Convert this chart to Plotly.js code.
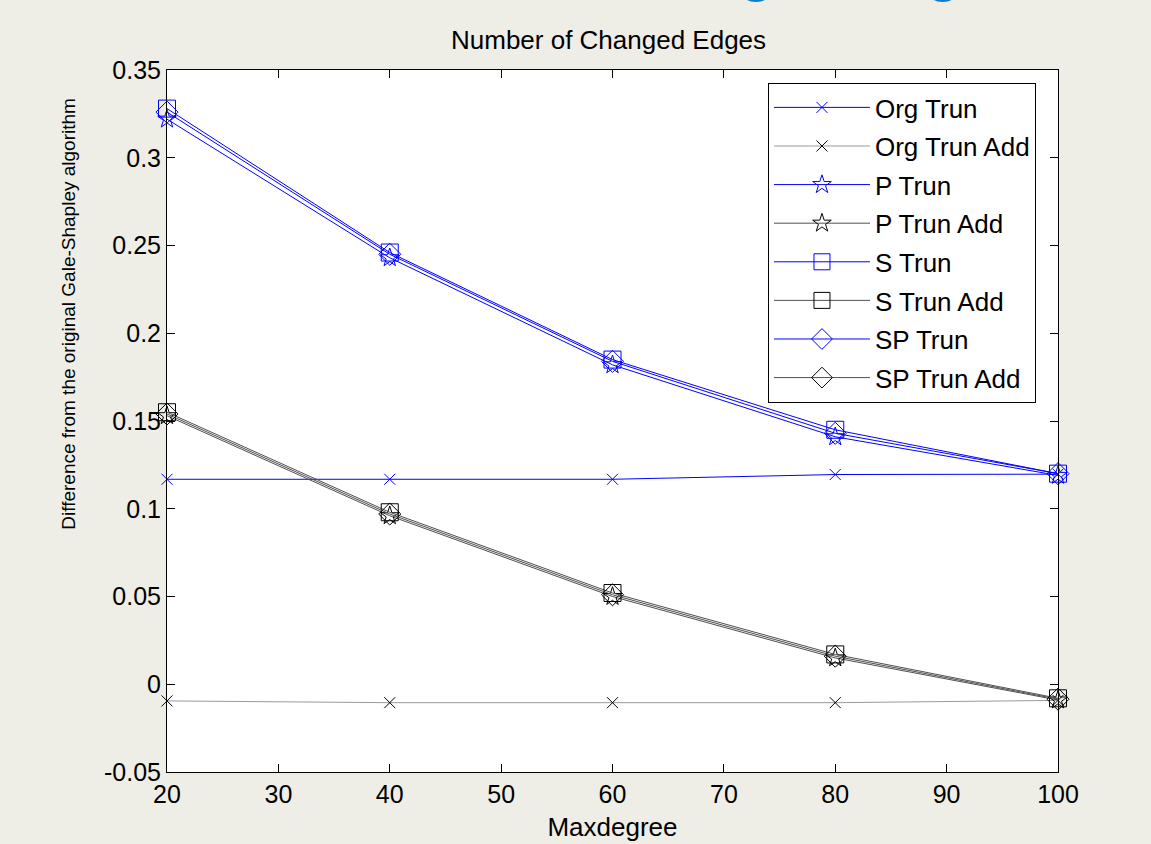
<!DOCTYPE html>
<html>
<head>
<meta charset="utf-8">
<script src="https://cdn.plot.ly/plotly-3.0.1.min.js"></script>
<style>html,body{margin:0;padding:0;background:#EFEEE6;}#chart{width:1151px;height:844px;}</style>
</head>
<body>
<div id="chart"></div>
<script>
// ---- data ----
const maxdegree = [20, 40, 60, 80, 100];
const orgTrun    = [0.1168, 0.1168, 0.1168, 0.1195, 0.1197];
const orgTrunAdd = [-0.0095, -0.0105, -0.0105, -0.0105, -0.0092];
const pTrun      = [0.322, 0.243, 0.182, 0.141, 0.119];
const pTrunAdd   = [0.153, 0.096, 0.050, 0.015, -0.0090];
const sTrun      = [0.328, 0.246, 0.185, 0.145, 0.120];
const sTrunAdd   = [0.155, 0.098, 0.052, 0.017, -0.0080];
const spTrun     = [0.326, 0.245, 0.184, 0.143, 0.120];
const spTrunAdd  = [0.154, 0.097, 0.051, 0.016, -0.0085];
const seriesNames = ["Org Trun", "Org Trun Add", "P Trun", "P Trun Add", "S Trun", "S Trun Add", "SP Trun", "SP Trun Add"];
const yTickVals = [-0.05, 0, 0.05, 0.1, 0.15, 0.2, 0.25, 0.3, 0.35];
const yTickText = ["-0.05", "0", "0.05", "0.1", "0.15", "0.2", "0.25", "0.3", "0.35"];
const xTickVals = [20, 30, 40, 50, 60, 70, 80, 90, 100];
const chartTitle = "Number of Changed Edges";
const xTitle = "Maxdegree";
const yTitle = "Difference from the original Gale-Shapley algorithm";
const slideTitle = "Number of Changed Edges";

const series = [orgTrun, orgTrunAdd, pTrun, pTrunAdd, sTrun, sTrunAdd, spTrun, spTrunAdd];
const symbols = ["x-thin-open", "x-thin-open", "star-open", "star-open", "square-open", "square-open", "diamond-open", "diamond-open"];
const sizes = [11, 11, 14, 14, 17, 17, 17, 17];

const FONT = "Liberation Sans, Arial, sans-serif";
const traces = series.map((ys, i) => {
  const isAdd = i % 2 === 1;
  const lineColor = isAdd ? (i === 1 ? "#9a9a9a" : "#505050") : "#0000FF";
  const markColor = isAdd ? "#000000" : "#0000FF";
  return {
    x: maxdegree, y: ys, name: seriesNames[i], type: "scatter", mode: "lines+markers",
    legendgroup: "g" + i,
    cliponaxis: false,
    line: {color: lineColor, width: 1},
    marker: {symbol: symbols[i], size: sizes[i], color: markColor, line: {color: markColor, width: 1}}
  };
});

const layout = {
  width: 1151, height: 844,
  paper_bgcolor: "#EFEEE6", plot_bgcolor: "#FFFFFF",
  margin: {l: 167, r: 93, t: 70, b: 72},
  font: {family: FONT, color: "#000", size: 24},
  title: {text: chartTitle, font: {family: FONT, size: 26, color: "#000"}, x: 0.5287, xanchor: "center", y: 0.953, yanchor: "middle"},
  showlegend: true,
  legend: {
    x: 0.6745, y: 0.9815, xanchor: "left", yanchor: "top",
    bgcolor: "#FFFFFF", bordercolor: "#000", borderwidth: 1,
    font: {family: FONT, size: 26, color: "#000"},
    traceorder: "grouped", tracegroupgap: 1.8, itemwidth: 96
  },
  xaxis: {
    range: [20, 100], tickvals: xTickVals, ticks: "inside", ticklen: 8, tickcolor: "#000",
    showline: true, linecolor: "#000", linewidth: 1, mirror: "ticks", showgrid: false, zeroline: false,
    tickfont: {family: FONT, size: 25}, title: {text: xTitle, font: {family: FONT, size: 26}, standoff: 10}
  },
  yaxis: {
    range: [-0.05, 0.35], tickvals: yTickVals, ticktext: yTickText, ticks: "inside", ticklen: 8, tickcolor: "#000",
    showline: true, linecolor: "#000", linewidth: 1, mirror: "ticks", showgrid: false, zeroline: false,
    tickfont: {family: FONT, size: 25}
  },
  annotations: [
    {
      text: yTitle, xref: "paper", yref: "paper", x: -0.111, y: 0.653, textangle: -90,
      xanchor: "center", yanchor: "middle", showarrow: false,
      font: {family: FONT, size: 19, color: "#000"}
    },
    {
      text: "<b>" + slideTitle + "</b>", xref: "paper", yref: "paper", x: 0.9626, y: 1,
      xanchor: "right", yanchor: "bottom", yshift: 66, showarrow: false,
      font: {family: FONT, size: 56, color: "#0B7FC7"}
    }
  ]
};

Plotly.newPlot("chart", traces, layout, {displayModeBar: false, staticPlot: true});
</script>
</body>
</html>
